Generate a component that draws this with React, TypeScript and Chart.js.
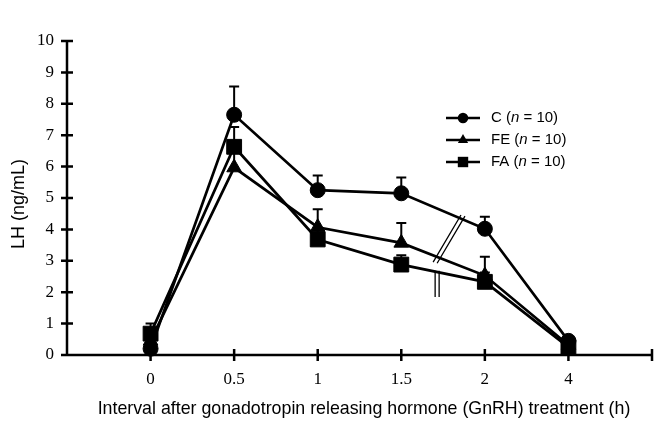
import React, { useEffect, useRef } from 'react';
import { Chart, registerables } from 'chart.js';

Chart.register(...registerables);

// time points after GnRH (h), drawn at equal spacing
const categories = ['0', '0.5', '1', '1.5', '2', '4'];
const yTicks = [0, 1, 2, 3, 4, 5, 6, 7, 8, 9, 10];

// LH (ng/mL), mean and upper error
const cValues = [0.2, 7.65, 5.25, 5.15, 4.02, 0.45];
const cErrors = [0.15, 0.9, 0.47, 0.5, 0.38, 0];
const feValues = [0.45, 5.97, 4.07, 3.57, 2.53, 0.32];
const feErrors = [0.35, 0.6, 0.57, 0.63, 0.6, 0];
const faValues = [0.68, 6.63, 3.68, 2.88, 2.33, 0.25];
const faErrors = [0.32, 0.63, 0.3, 0.3, 0.3, 0];

const legendLabels = ['C', 'FE', 'FA'];

// axis break marks, in data units (x = category index)
const breakSlash = [3.381, 2.96, 3.714, 4.46];
const breakBar = [3.405, 2.68, 1.85];

const series = [
  { label: legendLabels[0], values: cValues, errors: cErrors, style: 'circle', radius: 7.5 },
  { label: legendLabels[1], values: feValues, errors: feErrors, style: 'triangle', radius: 8.5 },
  { label: legendLabels[2], values: faValues, errors: faErrors, style: 'rect', radius: 10.5 },
];

const SANS = '"Liberation Sans", Arial, sans-serif';
const SERIF = '"Liberation Serif", "Times New Roman", serif';

function marker(ctx: CanvasRenderingContext2D, style: string, cx: number, cy: number, r: number) {
  ctx.beginPath();
  if (style === 'circle') {
    ctx.arc(cx, cy, r, 0, Math.PI * 2);
  } else if (style === 'triangle') {
    ctx.moveTo(cx, cy - r);
    ctx.lineTo(cx + r * 0.866, cy + r * 0.5);
    ctx.lineTo(cx - r * 0.866, cy + r * 0.5);
    ctx.closePath();
  } else {
    const s = r * Math.SQRT1_2;
    ctx.rect(cx - s, cy - s, s * 2, s * 2);
  }
  ctx.fill();
}

const decorPlugin = {
  id: 'decor',
  beforeDatasetsDraw(chart: any) {
    const { ctx, scales } = chart;
    const x = scales.x;
    const y = scales.y;
    const left = x.getPixelForValue(-1);
    const right = x.getPixelForValue(6);
    const bottom = y.getPixelForValue(0);
    const top = y.getPixelForValue(10);
    ctx.save();
    ctx.strokeStyle = '#000';
    ctx.fillStyle = '#000';
    ctx.lineWidth = 2.5;
    ctx.lineCap = 'butt';

    // axes with ticks crossing the line
    ctx.beginPath();
    ctx.moveTo(left, top);
    ctx.lineTo(left, bottom);
    ctx.lineTo(right, bottom);
    yTicks.forEach((v) => {
      const py = y.getPixelForValue(v);
      ctx.moveTo(left - 6, py);
      ctx.lineTo(v === 0 ? left : left + 6, py);
    });
    for (let i = 0; i <= 6; i++) {
      const px = x.getPixelForValue(i);
      ctx.moveTo(px, bottom - 6);
      ctx.lineTo(px, bottom + 6);
    }
    ctx.stroke();

    // upper error bars
    ctx.lineWidth = 2;
    series.forEach((s) => {
      s.values.forEach((v, i) => {
        const e = s.errors[i];
        if (!e) return;
        const px = x.getPixelForValue(i);
        const y0 = y.getPixelForValue(v);
        const y1 = y.getPixelForValue(v + e);
        ctx.beginPath();
        ctx.moveTo(px, y0);
        ctx.lineTo(px, y1);
        ctx.moveTo(px - 5, y1);
        ctx.lineTo(px + 5, y1);
        ctx.stroke();
      });
    });
    ctx.restore();
  },
  afterDatasetsDraw(chart: any) {
    const { ctx, scales } = chart;
    const x = scales.x;
    const y = scales.y;
    ctx.save();
    ctx.strokeStyle = '#000';
    ctx.fillStyle = '#000';

    // break marks
    ctx.lineWidth = 1.3;
    const sx0 = x.getPixelForValue(breakSlash[0]);
    const sy0 = y.getPixelForValue(breakSlash[1]);
    const sx1 = x.getPixelForValue(breakSlash[2]);
    const sy1 = y.getPixelForValue(breakSlash[3]);
    ctx.beginPath();
    [0, 4].forEach((d) => {
      ctx.moveTo(sx0 + d, sy0 + d * 0.3);
      ctx.lineTo(sx1 + d, sy1 + d * 0.3);
    });
    const bx = x.getPixelForValue(breakBar[0]);
    const by0 = y.getPixelForValue(breakBar[1]);
    const by1 = y.getPixelForValue(breakBar[2]);
    [0, 4].forEach((d) => {
      ctx.moveTo(bx + d, by0);
      ctx.lineTo(bx + d, by1);
    });
    ctx.stroke();

    // legend
    series.forEach((s, i) => {
      const ly = 118 + i * 22;
      ctx.lineWidth = 2.5;
      ctx.beginPath();
      ctx.moveTo(446, ly);
      ctx.lineTo(480, ly);
      ctx.stroke();
      marker(ctx, s.style, 463, ly, s.radius * 0.7);
      ctx.textBaseline = 'middle';
      ctx.textAlign = 'left';
      let tx = 491;
      ctx.font = `15px ${SANS}`;
      ctx.fillText(`${s.label} (`, tx, ly);
      tx += ctx.measureText(`${s.label} (`).width;
      ctx.font = `italic 15px ${SANS}`;
      ctx.fillText('n', tx, ly);
      tx += ctx.measureText('n').width;
      ctx.font = `15px ${SANS}`;
      ctx.fillText(' = 10)', tx, ly);
    });

    // axis titles
    ctx.font = `17.8px ${SANS}`;
    ctx.textAlign = 'center';
    ctx.textBaseline = 'middle';
    ctx.fillText('Interval after gonadotropin releasing hormone (GnRH) treatment (h)', 364, 409);
    ctx.translate(19, 204);
    ctx.rotate(-Math.PI / 2);
    ctx.font = `18px ${SANS}`;
    ctx.fillText('LH (ng/mL)', 0, 0);
    ctx.restore();
  },
};

const App: React.FC = () => {
  const canvasRef = useRef<HTMLCanvasElement>(null);
  const chartRef = useRef<Chart | null>(null);

  useEffect(() => {
    document.body.style.margin = '0';
    if (!canvasRef.current) return;
    if (chartRef.current) chartRef.current.destroy();

    chartRef.current = new Chart(canvasRef.current, {
      type: 'line',
      data: {
        datasets: series.map((s) => ({
          label: s.label,
          data: s.values.map((v, i) => ({ x: i, y: v })),
          borderColor: '#000',
          borderWidth: 2.7,
          backgroundColor: '#000',
          pointStyle: s.style as any,
          pointRadius: s.radius,
          pointBackgroundColor: '#000',
          pointBorderColor: '#000',
          pointBorderWidth: 1,
          tension: 0,
          clip: false as any,
        })),
      },
      options: {
        animation: false,
        responsive: true,
        maintainAspectRatio: false,
        layout: { padding: { top: 41, right: 11, left: 0, bottom: 0 } },
        plugins: {
          legend: { display: false },
          tooltip: { enabled: false },
        },
        scales: {
          x: {
            type: 'linear',
            min: -1,
            max: 6,
            grid: { display: false, drawTicks: false },
            border: { display: false },
            ticks: {
              stepSize: 1,
              autoSkip: false,
              maxRotation: 0,
              padding: 14,
              color: '#000',
              font: { family: SERIF, size: 17 },
              callback: (v: any) => categories[v] ?? '',
            },
            afterFit: (s: any) => {
              s.height = 76;
            },
          },
          y: {
            min: 0,
            max: 10,
            grid: { display: false, drawTicks: false },
            border: { display: false },
            ticks: {
              stepSize: 1,
              padding: 13,
              color: '#000',
              font: { family: SERIF, size: 17 },
            },
            afterFit: (s: any) => {
              s.width = 67;
            },
          },
        },
      },
      plugins: [decorPlugin],
    });

    return () => {
      if (chartRef.current) {
        chartRef.current.destroy();
        chartRef.current = null;
      }
    };
  }, []);

  return (
    <div style={{ width: 666, height: 431, position: 'relative' }}>
      <canvas ref={canvasRef} />
    </div>
  );
};

export default App;
